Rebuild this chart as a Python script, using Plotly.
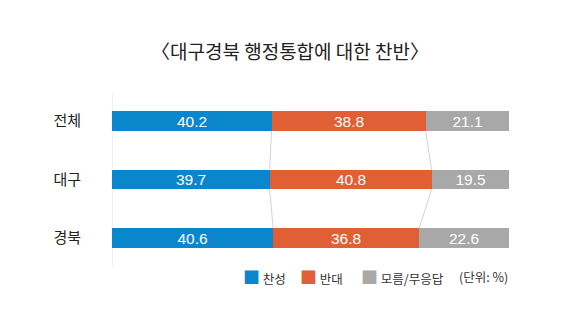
import plotly.graph_objects as go

categories = ["전체", "대구", "경북"]
series_names = ["찬성", "반대", "모름/무응답"]
favor = [40.2, 39.7, 40.6]
oppose = [38.8, 40.8, 36.8]
unknown = [21.1, 19.5, 22.6]
colors = ["#0a87cc", "#e05f35", "#a8a8a8"]
title = "〈대구경북 행정통합에 대한 찬반〉"
unit_note = "(단위: %)"

FONT = "Noto Sans CJK KR"
NUMFONT = "Liberation Sans, Arial, sans-serif"
ypos = list(range(len(categories)))
bar_w = 0.34

L, R, T, B = 112, 71, 92, 55
PW = 580 - L - R

def px_to_paper(px):
    return (px - L) / PW

fig = go.Figure()
for name, vals, col in zip(series_names, [favor, oppose, unknown], colors):
    fig.add_trace(go.Bar(
        y=ypos, x=vals, name=name, orientation="h", width=bar_w,
        marker=dict(color=col, line=dict(width=0)),
        text=[f"{v:.1f}" for v in vals], textposition="inside",
        insidetextanchor="middle", constraintext="none",
        textfont=dict(color="white", size=15.5, family=NUMFONT),
        hoverinfo="skip", showlegend=False,
    ))

# connector lines between stacked boundaries
cum1 = [f for f in favor]
cum2 = [f + o for f, o in zip(favor, oppose)]
for cum in (cum1, cum2):
    for i in range(len(categories) - 1):
        fig.add_trace(go.Scatter(
            x=[cum[i], cum[i + 1]],
            y=[ypos[i] + bar_w / 2, ypos[i + 1] - bar_w / 2],
            mode="lines", line=dict(color="#d4d4d4", width=1),
            showlegend=False, hoverinfo="skip",
        ))

fig.add_annotation(text=title, xref="paper", yref="paper", x=px_to_paper(290), y=1,
                   yshift=42, xanchor="center", yanchor="middle",
                   showarrow=False, font=dict(size=19, color="#222", family=FONT))

# manual legend
legend_x = [241, 298, 359]
for name, col, lx in zip(series_names, colors, legend_x):
    fig.add_annotation(
        text=f"<span style='color:{col};font-size:17px'>■</span> {name}",
        xref="paper", yref="paper", x=px_to_paper(lx), y=0, yshift=-9,
        xanchor="left", yanchor="middle", showarrow=False,
        font=dict(size=12.5, color="#333", family=FONT))
fig.add_annotation(text=unit_note, xref="paper", yref="paper", x=px_to_paper(510), y=0,
                   yshift=-9, xanchor="right", yanchor="middle",
                   showarrow=False, font=dict(size=12.5, color="#333", family=FONT))

fig.update_layout(
    width=580, height=322, barmode="stack",
    paper_bgcolor="white", plot_bgcolor="white",
    margin=dict(l=L, r=R, t=T, b=B),
    font=dict(family=FONT, color="#333"),
    bargap=0,
    showlegend=False,
    xaxis=dict(range=[0, 100], visible=False, fixedrange=True),
    yaxis=dict(range=[2.5, -0.5], tickmode="array", tickvals=ypos,
               ticktext=categories, showgrid=False, zeroline=False,
               showline=False, ticks="", ticklabelstandoff=30,
               tickfont=dict(size=15, color="#222", family=FONT)),
)
fig.add_shape(type="line", xref="x", yref="paper", x0=0, x1=0, y0=0, y1=1,
              line=dict(color="#e2e2e2", width=1), layer="below")

fig.write_html("out.html")
